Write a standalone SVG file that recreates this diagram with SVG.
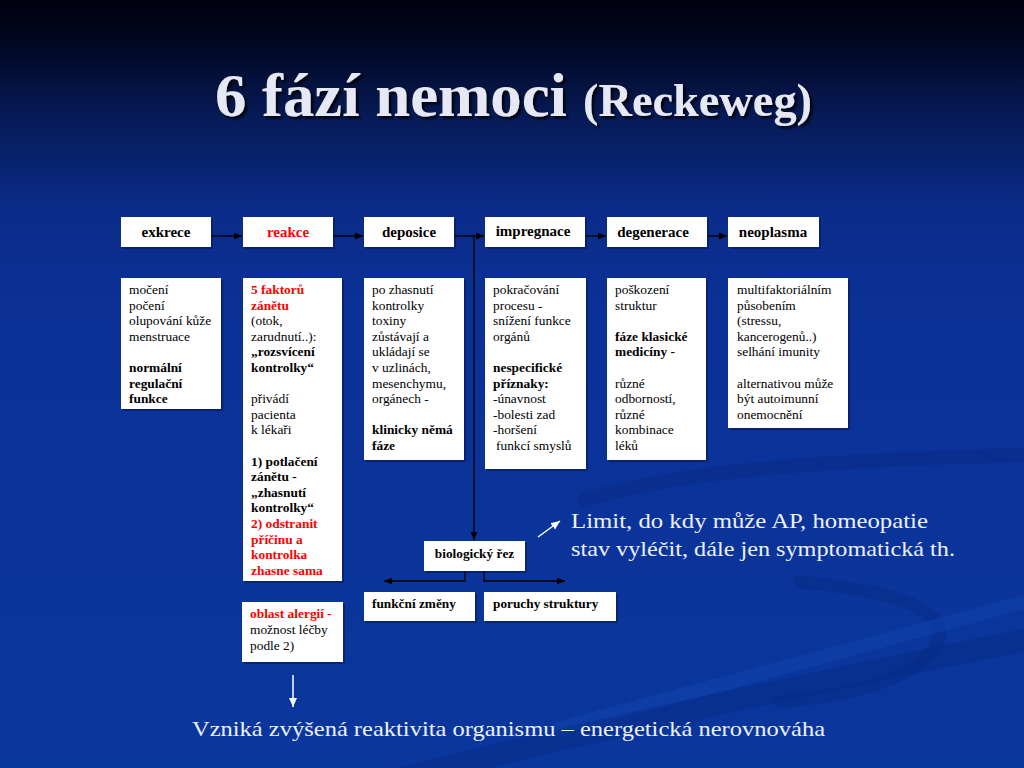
<svg xmlns="http://www.w3.org/2000/svg" width="1024" height="768" viewBox="0 0 1024 768">
<defs>
<linearGradient id="bg" gradientUnits="userSpaceOnUse" x1="0" y1="0" x2="0" y2="768">
<stop offset="0" stop-color="#00000c"/>
<stop offset="0.05" stop-color="#010620"/>
<stop offset="0.15" stop-color="#061a55"/>
<stop offset="0.27" stop-color="#0a2b88"/>
<stop offset="0.4" stop-color="#0b3197"/>
<stop offset="1" stop-color="#0a379d"/>
</linearGradient>
<filter id="tshadow" x="-10%" y="-20%" width="120%" height="150%">
<feDropShadow dx="2.5" dy="2.5" stdDeviation="1" flood-color="#000" flood-opacity="0.85"/>
</filter>
<marker id="ah" markerUnits="userSpaceOnUse" markerWidth="9" markerHeight="8" refX="8" refY="3.5" orient="auto">
<path d="M0,0 L8,3.5 L0,7 z" fill="#000"/>
</marker>
<marker id="ahw" markerUnits="userSpaceOnUse" markerWidth="10" markerHeight="9" refX="9" refY="4" orient="auto">
<path d="M0,0 L9,4 L0,8 z" fill="#fff"/>
</marker>
</defs>
<style>
.box{fill:#fff}
.sh{fill:#06154a;opacity:0.55}
.hd{font-family:"Liberation Serif","Times New Roman",serif;font-size:15px;font-weight:bold;fill:#000;text-anchor:middle}
.tx{font-family:"Liberation Serif","Times New Roman",serif;font-size:13.4px;fill:#000}
.sm{font-family:"Liberation Serif","Times New Roman",serif;font-size:13.3px;font-weight:bold;fill:#000}
.b{font-weight:bold}
.r{fill:#ff0000;font-weight:bold}
.wt{font-family:"Liberation Serif","Times New Roman",serif;font-size:22px;fill:#eef0fa}
.ttl{font-family:"Liberation Serif","Times New Roman",serif;font-weight:bold;fill:#e6e8f6;filter:url(#tshadow)}
.con{stroke:#000;stroke-width:1.3;fill:none}
.wcon{stroke:#fff;stroke-width:1.5;fill:none}
</style>
<rect x="0" y="0" width="1024" height="768" fill="url(#bg)"/>
<g id="swooshes" fill="none" stroke-linecap="round">
<path d="M585,500 Q700,462 1024,455" stroke="#072a86" stroke-width="14" opacity="0.5"/>
<path d="M800,582 Q965,598 935,648 Q905,690 780,702" stroke="#072a86" stroke-width="13" opacity="0.45"/>
<path d="M560,728 Q790,665 1024,602" stroke="#1148b4" stroke-width="14" opacity="0.4"/>
<path d="M400,778 Q700,705 1024,640" stroke="#072a86" stroke-width="22" opacity="0.45"/>
</g>
<g id="title">
<text class="ttl" x="215" y="116" font-size="62" textLength="352" lengthAdjust="spacingAndGlyphs">6 fází nemoci</text>
<text class="ttl" x="583" y="116" font-size="46" textLength="229" lengthAdjust="spacingAndGlyphs">(Reckeweg)</text>
</g>
<g id="connectors">
<line class="con" x1="211" y1="236" x2="242" y2="236" marker-end="url(#ah)"/>
<line class="con" x1="333" y1="236" x2="363" y2="236" marker-end="url(#ah)"/>
<line class="con" x1="454" y1="236" x2="484" y2="236" marker-end="url(#ah)"/>
<line class="con" x1="585" y1="236" x2="606" y2="236" marker-end="url(#ah)"/>
<line class="con" x1="707" y1="236" x2="727" y2="236" marker-end="url(#ah)"/>
<line class="con" x1="474" y1="236" x2="474" y2="540" marker-end="url(#ah)"/>
<polyline class="con" points="465,571 465,581 384,581" marker-end="url(#ah)"/>
<polyline class="con" points="484,571 484,581 565,581" marker-end="url(#ah)"/>
<line class="wcon" x1="293" y1="675" x2="293" y2="707" marker-end="url(#ahw)"/>
<line class="wcon" x1="538" y1="537" x2="560" y2="521" marker-end="url(#ahw)"/>
</g>
<g id="exkrece">
<rect class="sh" x="123" y="219" width="90" height="30"/>
<rect class="box" x="121" y="217" width="90" height="30"/>
<text class="hd" x="166" y="237">exkrece</text>
</g>
<g id="reakce">
<rect class="sh" x="245" y="219" width="90" height="30"/>
<rect class="box" x="243" y="217" width="90" height="30"/>
<text class="hd" x="288" y="237" style="fill:#ff0000">reakce</text>
</g>
<g id="deposice">
<rect class="sh" x="366" y="219" width="90" height="30"/>
<rect class="box" x="364" y="217" width="90" height="30"/>
<text class="hd" x="409" y="237">deposice</text>
</g>
<g id="impregnace">
<rect class="sh" x="487" y="219" width="100" height="30"/>
<rect class="box" x="485" y="217" width="100" height="30"/>
<text class="hd" x="533" y="236">impregnace</text>
</g>
<g id="degenerace">
<rect class="sh" x="609" y="219" width="100" height="30"/>
<rect class="box" x="607" y="217" width="100" height="30"/>
<text class="hd" x="653" y="237">degenerace</text>
</g>
<g id="neoplasma">
<rect class="sh" x="730" y="219" width="91" height="30"/>
<rect class="box" x="728" y="217" width="91" height="30"/>
<text class="hd" x="773" y="237">neoplasma</text>
</g>
<g id="exkrece-detail">
<rect class="sh" x="123" y="280" width="100" height="131"/>
<rect class="box" x="121" y="278" width="100" height="131"/>
<text class="tx">
<tspan x="129" y="294">močení</tspan>
<tspan x="129" y="310">počení</tspan>
<tspan x="129" y="325">olupování kůže</tspan>
<tspan x="129" y="341">menstruace</tspan>
<tspan x="129" y="372" class="b">normální</tspan>
<tspan x="129" y="388" class="b">regulační</tspan>
<tspan x="129" y="403" class="b">funkce</tspan>
</text>
</g>
<g id="reakce-detail">
<rect class="sh" x="245" y="280" width="99" height="303"/>
<rect class="box" x="243" y="278" width="99" height="303"/>
<text class="tx">
<tspan x="251" y="294" class="r">5 faktorů</tspan>
<tspan x="251" y="310" class="r">zánětu</tspan>
<tspan x="251" y="325">(otok,</tspan>
<tspan x="251" y="341">zarudnutí..):</tspan>
<tspan x="251" y="356" class="b">„rozsvícení</tspan>
<tspan x="251" y="372" class="b">kontrolky“</tspan>
<tspan x="251" y="403">přivádí</tspan>
<tspan x="251" y="419">pacienta</tspan>
<tspan x="251" y="434">k lékaři</tspan>
<tspan x="251" y="466" class="b">1) potlačení</tspan>
<tspan x="251" y="481" class="b">zánětu -</tspan>
<tspan x="251" y="497" class="b">„zhasnutí</tspan>
<tspan x="251" y="512" class="b">kontrolky“</tspan>
<tspan x="251" y="528" class="r">2) odstranit</tspan>
<tspan x="251" y="544" class="r">příčinu a</tspan>
<tspan x="251" y="559" class="r">kontrolka</tspan>
<tspan x="251" y="575" class="r">zhasne sama</tspan>
</text>
</g>
<g id="alergie">
<rect class="sh" x="244" y="604" width="101" height="60"/>
<rect class="box" x="242" y="602" width="101" height="60"/>
<text class="tx">
<tspan x="250" y="618" class="r">oblast alergií -</tspan>
<tspan x="250" y="634">možnost léčby</tspan>
<tspan x="250" y="650">podle 2)</tspan>
</text>
</g>
<g id="deposice-detail">
<rect class="sh" x="366" y="280" width="100" height="182"/>
<rect class="box" x="364" y="278" width="100" height="182"/>
<text class="tx">
<tspan x="372" y="294">po zhasnutí</tspan>
<tspan x="372" y="310">kontrolky</tspan>
<tspan x="372" y="325">toxiny</tspan>
<tspan x="372" y="341">zůstávají a</tspan>
<tspan x="372" y="356">ukládají se</tspan>
<tspan x="372" y="372">v uzlinách,</tspan>
<tspan x="372" y="388">mesenchymu,</tspan>
<tspan x="372" y="403">orgánech -</tspan>
<tspan x="372" y="434" class="b">klinicky němá</tspan>
<tspan x="372" y="450" class="b">fáze</tspan>
</text>
</g>
<g id="impregnace-detail">
<rect class="sh" x="487" y="280" width="101" height="191"/>
<rect class="box" x="485" y="278" width="101" height="191"/>
<text class="tx">
<tspan x="493" y="294">pokračování</tspan>
<tspan x="493" y="310">procesu -</tspan>
<tspan x="493" y="325">snížení funkce</tspan>
<tspan x="493" y="341">orgánů</tspan>
<tspan x="493" y="372" class="b">nespecifické</tspan>
<tspan x="493" y="388" class="b">příznaky:</tspan>
<tspan x="493" y="403">-únavnost</tspan>
<tspan x="493" y="419">-bolesti zad</tspan>
<tspan x="493" y="434">-horšení</tspan>
<tspan x="496" y="450">funkcí smyslů</tspan>
</text>
</g>
<g id="degenerace-detail">
<rect class="sh" x="609" y="280" width="99" height="182"/>
<rect class="box" x="607" y="278" width="99" height="182"/>
<text class="tx">
<tspan x="615" y="294">poškození</tspan>
<tspan x="615" y="310">struktur</tspan>
<tspan x="615" y="341" class="b">fáze klasické</tspan>
<tspan x="615" y="356" class="b">medicíny -</tspan>
<tspan x="615" y="388">různé</tspan>
<tspan x="615" y="403">odborností,</tspan>
<tspan x="615" y="419">různé</tspan>
<tspan x="615" y="434">kombinace</tspan>
<tspan x="615" y="450">léků</tspan>
</text>
</g>
<g id="neoplasma-detail">
<rect class="sh" x="730" y="280" width="120" height="150"/>
<rect class="box" x="728" y="278" width="120" height="150"/>
<text class="tx">
<tspan x="737" y="294">multifaktoriálním</tspan>
<tspan x="737" y="310">působením</tspan>
<tspan x="737" y="325">(stressu,</tspan>
<tspan x="737" y="341">kancerogenů..)</tspan>
<tspan x="737" y="356">selhání imunity</tspan>
<tspan x="737" y="388">alternativou může</tspan>
<tspan x="737" y="403">být autoimunní</tspan>
<tspan x="737" y="419">onemocnění</tspan>
</text>
</g>
<g id="biologicky-rez">
<rect class="sh" x="426" y="543" width="101" height="30"/>
<rect class="box" x="424" y="541" width="101" height="30"/>
<text class="sm" x="474.5" y="558" text-anchor="middle">biologický řez</text>
</g>
<g id="funkcni-zmeny">
<rect class="sh" x="366" y="594" width="111" height="29"/>
<rect class="box" x="364" y="592" width="111" height="29"/>
<text class="sm" x="372" y="608">funkční změny</text>
</g>
<g id="poruchy-struktury">
<rect class="sh" x="486" y="594" width="132" height="29"/>
<rect class="box" x="484" y="592" width="132" height="29"/>
<text class="sm" x="493" y="608">poruchy struktury</text>
</g>
<g id="limit-note">
<text class="wt" x="571" y="528" textLength="357" lengthAdjust="spacingAndGlyphs">Limit, do kdy může AP, homeopatie</text>
<text class="wt" x="571" y="556" textLength="384" lengthAdjust="spacingAndGlyphs">stav vyléčit, dále jen symptomatická th.</text>
</g>
<g id="bottom-note">
<text class="wt" x="192" y="736" textLength="633" lengthAdjust="spacingAndGlyphs">Vzniká zvýšená reaktivita organismu – energetická nerovnováha</text>
</g>
</svg>
